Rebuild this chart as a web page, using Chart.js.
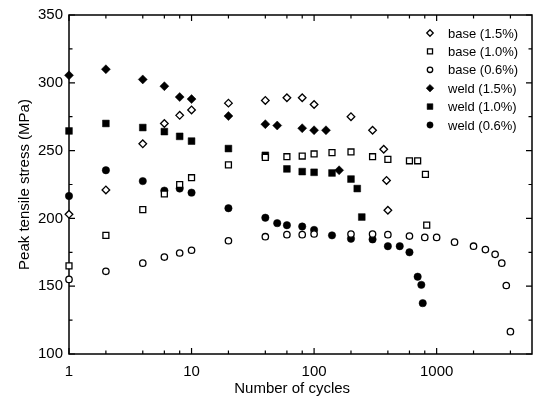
<!DOCTYPE html>
<html>
<head>
<meta charset="utf-8">
<script src="https://cdn.jsdelivr.net/npm/chart.js@4.4.1/dist/chart.umd.min.js"></script>
<style>
  html, body { margin: 0; padding: 0; background: #fff; }
  #wrap { width: 544px; height: 400px; }
</style>
</head>
<body>
<div id="wrap"><canvas id="chart"></canvas></div>
<script>
// peak tensile stress (MPa) against number of cycles, per strain amplitude

const base15Cycles = [1, 2, 4, 6, 8, 10, 20, 40, 60, 80, 100, 200, 300, 370, 390, 400];
const base15Stress = [203, 221, 255, 270, 276, 280, 285, 287, 289, 289, 284, 275, 265, 251, 228, 206];

const base10Cycles = [1, 2, 4, 6, 8, 10, 20, 40, 60, 80, 100, 140, 200, 300, 400, 600, 700, 810, 830];
const base10Stress = [165, 187.5, 206.5, 218, 225, 230, 239.5, 245, 245.5, 246, 247.5, 248.5, 249, 245.5, 243.5, 242.5, 242.5, 232.5, 195];

const base06Cycles = [1, 2, 4, 6, 8, 10, 20, 40, 60, 80, 100, 200, 300, 400, 600, 800, 1000, 1400, 2000, 2500, 3000, 3400, 3700, 4000];
const base06Stress = [155, 161, 167, 171.5, 174.5, 176.5, 183.5, 186.5, 188, 188, 188.5, 188.5, 188.5, 188, 187, 186, 186, 182.5, 179.5, 177, 173.5, 167, 150.5, 116.5];

const weld15Cycles = [1, 2, 4, 6, 8, 10, 20, 40, 50, 80, 100, 125, 160];
const weld15Stress = [305.5, 310, 302.5, 297.5, 289.5, 288, 275.5, 269.5, 268.5, 266.5, 265, 265, 235.5];

const weld10Cycles = [1, 2, 4, 6, 8, 10, 20, 40, 60, 80, 100, 140, 200, 225, 245];
const weld10Stress = [264.5, 270, 267, 264, 260.5, 257, 251.5, 246.5, 236.5, 234.5, 234, 233.5, 229, 222, 201];

const weld06Cycles = [1, 2, 4, 6, 8, 10, 20, 40, 50, 60, 80, 100, 140, 200, 300, 400, 500, 600, 700, 750, 770];
const weld06Stress = [216.5, 235.5, 227.5, 220.5, 222, 219, 207.5, 200.5, 196.5, 195, 194, 191.5, 187.5, 185, 184.5, 179.5, 179.5, 175, 157, 151, 137.5];

const seriesLabels = ['base (1.5%)', 'base (1.0%)', 'base (0.6%)', 'weld (1.5%)', 'weld (1.0%)', 'weld (0.6%)'];

// axis ticks
const xMajor = [1, 10, 100, 1000];
const xMinor = [2, 4, 6, 8, 20, 40, 60, 80, 200, 400, 600, 800, 2000, 4000];
const yMajor = [100, 150, 200, 250, 300, 350];
const yMinor = [125, 175, 225, 275, 325];

Chart.defaults.font.family = '"Liberation Sans", Arial, sans-serif';
Chart.defaults.color = '#000';

const toPoints = (xs, ys) => xs.map((v, i) => ({ x: v, y: ys[i] }));

function series(label, xs, ys, style, filled, radius) {
  return {
    label: label,
    data: toPoints(xs, ys),
    pointStyle: style,
    pointRadius: radius,
    pointHoverRadius: radius,
    pointBorderWidth: filled ? 0.5 : 1.3,
    pointBorderColor: '#000',
    pointBackgroundColor: filled ? '#000' : '#fff',
    borderColor: '#000',
    backgroundColor: filled ? '#000' : '#fff',
    showLine: false,
    clip: false
  };
}

const datasets = [
  series(seriesLabels[0], base15Cycles, base15Stress, 'rectRot', false, 3.8),
  series(seriesLabels[1], base10Cycles, base10Stress, 'rect', false, 4.2),
  series(seriesLabels[2], base06Cycles, base06Stress, 'circle', false, 3.2),
  series(seriesLabels[3], weld15Cycles, weld15Stress, 'rectRot', true, 4.5),
  series(seriesLabels[4], weld10Cycles, weld10Stress, 'rect', true, 4.8),
  series(seriesLabels[5], weld06Cycles, weld06Stress, 'circle', true, 3.7)
];

// box around the plot with inward ticks on all four sides
const frameTicks = {
  id: 'frameTicks',
  beforeDatasetsDraw(chart) {
    const { ctx, chartArea: a, scales: { x, y } } = chart;
    ctx.save();
    ctx.strokeStyle = '#000';
    ctx.lineWidth = 1.5;
    ctx.strokeRect(a.left, a.top, a.right - a.left, a.bottom - a.top);
    ctx.lineWidth = 1.2;
    ctx.beginPath();
    const tickX = (v, len) => {
      const px = x.getPixelForValue(v);
      ctx.moveTo(px, a.bottom); ctx.lineTo(px, a.bottom - len);
      ctx.moveTo(px, a.top); ctx.lineTo(px, a.top + len);
    };
    const tickY = (v, len) => {
      const py = y.getPixelForValue(v);
      ctx.moveTo(a.left, py); ctx.lineTo(a.left + len, py);
      ctx.moveTo(a.right, py); ctx.lineTo(a.right - len, py);
    };
    xMajor.forEach(v => tickX(v, 6));
    xMinor.forEach(v => tickX(v, 3.5));
    yMajor.forEach(v => tickY(v, 6));
    yMinor.forEach(v => tickY(v, 3.5));
    ctx.stroke();
    ctx.restore();
  }
};

// legend box in the upper right corner of the plot
const cornerLegend = {
  id: 'cornerLegend',
  afterDatasetsDraw(chart) {
    const { ctx } = chart;
    ctx.save();
    ctx.font = '13px "Liberation Sans", Arial, sans-serif';
    ctx.textBaseline = 'middle';
    ctx.textAlign = 'left';
    chart.data.datasets.forEach((ds, i) => {
      const rowY = 33 + i * 18.4;
      ctx.fillStyle = ds.pointBackgroundColor;
      ctx.strokeStyle = ds.pointBorderColor;
      ctx.lineWidth = ds.pointBorderWidth;
      Chart.helpers.drawPoint(ctx, {
        pointStyle: ds.pointStyle,
        radius: ds.pointRadius * 0.85,
        borderWidth: ds.pointBorderWidth,
        rotation: 0
      }, 430, rowY);
      ctx.fillStyle = '#000';
      ctx.fillText(ds.label, 448, rowY + 1);
    });
    ctx.restore();
  }
};

new Chart(document.getElementById('chart'), {
  type: 'scatter',
  data: { datasets: datasets },
  options: {
    responsive: true,
    maintainAspectRatio: false,
    animation: false,
    events: [],
    layout: { padding: { top: 11, right: 12, left: 0, bottom: 0 } },
    plugins: {
      legend: { display: false },
      tooltip: { enabled: false }
    },
    scales: {
      x: {
        type: 'logarithmic',
        min: 1,
        max: 6000,
        afterBuildTicks: s => { s.ticks = xMajor.map(v => ({ value: v })); },
        afterFit: s => { s.height = 46; },
        ticks: {
          autoSkip: false,
          maxRotation: 0,
          padding: 9,
          font: { size: 15 },
          callback: v => String(v)
        },
        grid: { display: false, drawTicks: false },
        border: { display: false },
        title: {
          display: true,
          text: 'Number of cycles    ',
          font: { size: 15 },
          padding: { top: 2, bottom: 2 }
        }
      },
      y: {
        min: 100,
        max: 350,
        afterBuildTicks: s => { s.ticks = yMajor.map(v => ({ value: v })); },
        afterFit: s => { s.width = 69; },
        ticks: {
          padding: 6,
          font: { size: 15 },
          callback: v => String(v)
        },
        grid: { display: false, drawTicks: false },
        border: { display: false },
        title: {
          display: true,
          text: 'Peak tensile stress (MPa)',
          font: { size: 15 },
          padding: { top: 16, bottom: 2 }
        }
      }
    }
  },
  plugins: [frameTicks, cornerLegend]
});
</script>
</body>
</html>
